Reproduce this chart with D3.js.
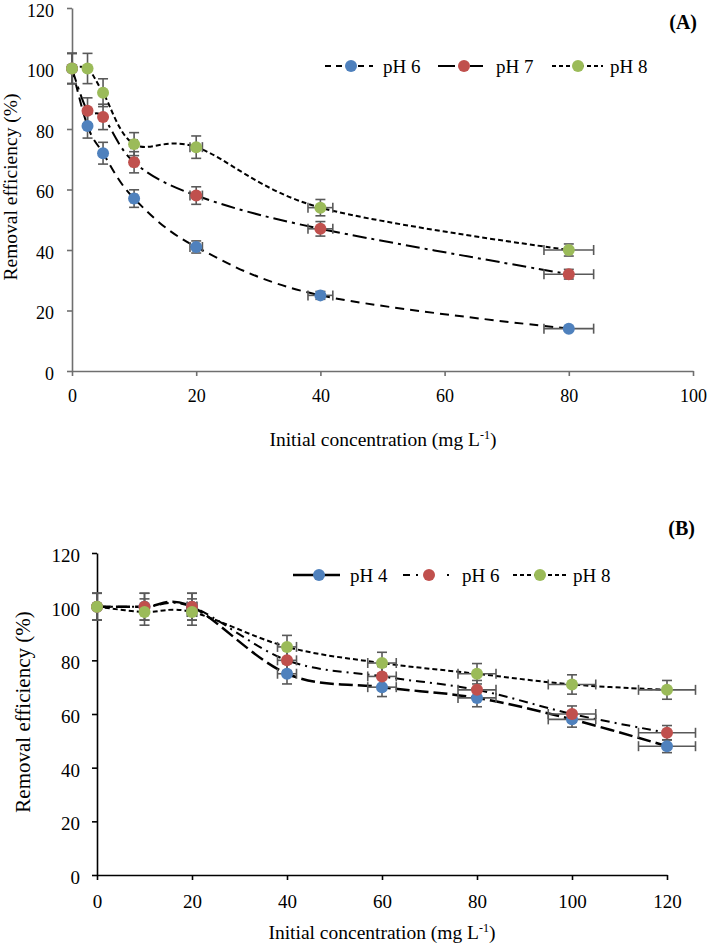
<!DOCTYPE html>
<html><head><meta charset="utf-8">
<script src="https://cdn.jsdelivr.net/npm/d3@7"></script>
<style>body{margin:0;background:#fff}</style>
</head><body><svg id="c" width="709" height="947" xmlns="http://www.w3.org/2000/svg"></svg>
<script>
// ---------- Panel A data ----------
const concA = [0, 2.5, 5, 10, 20, 40, 80];
const pH6A = [100, 81, 72, 57, 41, 25, 14];
const pH7A = [100, 86, 84, 69, 58, 47, 32];
const pH8A = [100, 100, 92, 75, 74, 54, 40];
const errY6A = [5, 4, 3.6, 2.9, 2, 1.3, 0.7];
const errY7A = [5, 4.3, 4.2, 3.5, 2.9, 2.4, 1.6];
const errY8A = [5, 5, 4.6, 3.8, 3.7, 2.7, 2];
const errXA = [0, 0.13, 0.25, 0.5, 1, 2, 4];
const namesA = ["pH 6", "pH 7", "pH 8"];
const ticksXA = [0, 20, 40, 60, 80, 100];
const ticksYA = [0, 20, 40, 60, 80, 100, 120];

// ---------- Panel B data ----------
const concB = [0, 10, 20, 40, 60, 80, 100, 120];
const pH4B = [100, 100, 100, 75, 70, 66, 58, 48];
const pH6B = [100, 100, 100, 80, 74, 69, 60, 53];
const pH8B = [100, 98, 98, 85, 79, 75, 71, 69];
const errY4B = [5, 5, 5, 3.8, 3.5, 3.3, 2.9, 2.4];
const errY6B = [5, 5, 5, 4, 3.7, 3.5, 3, 2.7];
const errY8B = [5, 4.9, 4.9, 4.3, 4, 3.8, 3.6, 3.5];
const errXB = [0, 0.5, 1, 2, 3, 4, 5, 6];
const namesB = ["pH 4", "pH 6", "pH 8"];
const ticksXB = [0, 20, 40, 60, 80, 100, 120];
const ticksYB = [0, 20, 40, 60, 80, 100, 120];

const colors = ["#4F81BD", "#C0504D", "#9BBB59"];
const FONT = "'Liberation Serif','Times New Roman',serif";
const svg = d3.select("#c");
svg.append("rect").attr("width", 709).attr("height", 947).attr("fill", "#fff");

function panel(cfg) {
  const g = svg.append("g");
  const x = d3.scaleLinear().domain(cfg.xDom).range(cfg.xRange);
  const y = d3.scaleLinear().domain(cfg.yDom).range(cfg.yRange);

  // axes
  const ax = g.append("g").attr("transform", `translate(0,${cfg.yRange[0]})`)
    .call(d3.axisBottom(x).tickValues(cfg.ticksX).tickSize(5).tickSizeOuter(0).tickPadding(cfg.xPad).tickFormat(d3.format("d")));
  const ay = g.append("g").attr("transform", `translate(${cfg.xRange[0]},0)`)
    .call(d3.axisLeft(y).tickValues(cfg.ticksY).tickSize(5).tickSizeOuter(0).tickPadding(cfg.yPad).tickFormat(d3.format("d")));
  [ax, ay].forEach(a => {
    a.select(".domain").attr("stroke", cfg.axisColor).attr("stroke-width", 1.6);
    a.selectAll(".tick line").attr("stroke", cfg.axisColor).attr("stroke-width", 1.6);
    a.selectAll("text").attr("font-family", FONT).attr("font-size", cfg.tickFont).attr("fill", "#000");
  });
  ay.selectAll("text").attr("dy", "0.45em");

  // lines
  const line = d3.line().x(d => x(d[0])).y(d => y(d[1])).curve(d3.curveCatmullRom.alpha(0));
  cfg.series.forEach((s, i) => {
    const pts = cfg.xs.map((v, k) => [v, s[k]]);
    g.append("path").attr("d", line(pts)).attr("fill", "none")
      .attr("stroke", "#000").attr("stroke-width", cfg.widths[i]).attr("stroke-dasharray", cfg.dashes[i]);
  });

  // error bars
  cfg.series.forEach((s, i) => {
    const eg = g.append("g").attr("stroke", "#595959").attr("stroke-width", 1.6).attr("fill", "none");
    cfg.xs.forEach((v, k) => {
      const cx = x(v), cy = y(s[k]);
      const ey = cfg.errY[i][k], ex = cfg.errX[k];
      const y1 = y(s[k] + ey), y2 = y(s[k] - ey);
      eg.append("line").attr("x1", cx).attr("x2", cx).attr("y1", y1).attr("y2", y2);
      eg.append("line").attr("x1", cx - 5).attr("x2", cx + 5).attr("y1", y1).attr("y2", y1);
      eg.append("line").attr("x1", cx - 5).attr("x2", cx + 5).attr("y1", y2).attr("y2", y2);
      if (ex > 0) {
        const x1 = x(v - ex), x2 = x(v + ex);
        eg.append("line").attr("x1", x1).attr("x2", x2).attr("y1", cy).attr("y2", cy);
        eg.append("line").attr("x1", x1).attr("x2", x1).attr("y1", cy - 5).attr("y2", cy + 5);
        eg.append("line").attr("x1", x2).attr("x2", x2).attr("y1", cy - 5).attr("y2", cy + 5);
      }
    });
  });
  // markers
  cfg.series.forEach((s, i) => {
    g.append("g").selectAll("circle").data(cfg.xs.map((v, k) => [v, s[k]])).join("circle")
      .attr("cx", d => x(d[0])).attr("cy", d => y(d[1])).attr("r", 6).attr("fill", colors[i]);
  });

  // legend
  cfg.legendX.forEach((lx, i) => {
    const ly = cfg.legendY;
    g.append("line").attr("x1", lx[0]).attr("x2", lx[1]).attr("y1", ly).attr("y2", ly)
      .attr("stroke", "#000").attr("stroke-width", cfg.widths[i]).attr("stroke-dasharray", cfg.legendDashes[i]);
    g.append("circle").attr("cx", lx[3]).attr("cy", ly).attr("r", 6).attr("fill", colors[i]);
    g.append("text").attr("x", lx[2]).attr("y", ly + 6.5).text(cfg.names[i])
      .attr("font-family", FONT).attr("font-size", cfg.legendFont);
  });

  // titles
  g.append("text").attr("x", cfg.panelLabel[1]).attr("y", cfg.panelLabel[2]).attr("text-anchor", "end")
    .attr("font-family", FONT).attr("font-size", 20).attr("font-weight", "bold").text(cfg.panelLabel[0]);
  g.append("text").attr("transform", `translate(${cfg.yTitle[0]},${cfg.yTitle[1]}) rotate(-90)`)
    .attr("text-anchor", "middle").attr("font-family", FONT).attr("font-size", cfg.yTitleFont)
    .text("Removal efficiency (%)");
  const xt = g.append("text").attr("x", cfg.xTitle[0]).attr("y", cfg.xTitle[1]).attr("text-anchor", "middle")
    .attr("font-family", FONT).attr("font-size", cfg.titleFont);
  xt.append("tspan").text("Initial concentration (mg L");
  xt.append("tspan").attr("dy", -7).attr("font-size", cfg.titleFont * 0.62).text("-1");
  xt.append("tspan").attr("dy", 7).text(")");
}

panel({
  xs: concA, series: [pH6A, pH7A, pH8A], errY: [errY6A, errY7A, errY8A], errX: errXA,
  names: namesA, ticksX: ticksXA, ticksY: ticksYA,
  xDom: [0, 100], xRange: [72, 693], yDom: [0, 120], yRange: [371, 8],
  axisColor: "#6f6f6f", tickFont: 18, xPad: 13, yPad: 13,
  widths: [2, 2, 2], dashes: ["9,6", "14,5,3,5", "5,3"], legendDashes: ["6,5", "17,15,13", "4,3"],
  legendX: [[325, 373, 383, 351], [438, 483, 496, 464], [552, 603, 610, 578]], legendY: 66, legendFont: 19,
  panelLabel: ["(A)", 697, 29], yTitle: [17, 187], xTitle: [383, 446], titleFont: 19.5, yTitleFont: 19.5
});

panel({
  xs: concB, series: [pH4B, pH6B, pH8B], errY: [errY4B, errY6B, errY8B], errX: errXB,
  names: namesB, ticksX: ticksXB, ticksY: ticksYB,
  xDom: [0, 120], xRange: [97, 667], yDom: [0, 120], yRange: [875, 553],
  axisColor: "#000", tickFont: 19, xPad: 15, yPad: 12,
  widths: [2.5, 2, 2], dashes: ["14,5", "9,5,2,5", "5,3"], legendDashes: ["none", "7,6,2,29,2,50", "4,3"],
  legendX: [[293, 340, 350, 319], [403, 450, 462, 429], [513, 568, 573, 540]], legendY: 575, legendFont: 19,
  panelLabel: ["(B)", 695, 535], yTitle: [30, 712], xTitle: [382, 939], titleFont: 19.5, yTitleFont: 21
});
</script>
</body></html>
